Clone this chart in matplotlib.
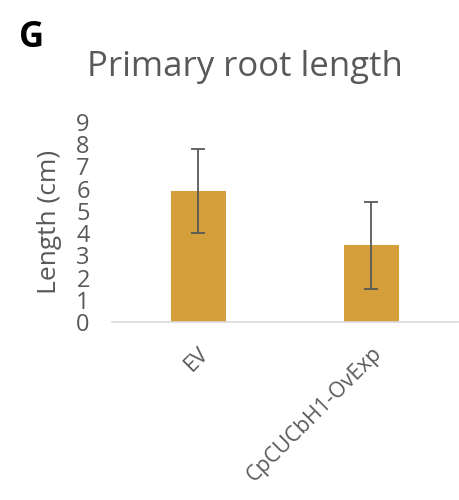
import matplotlib
matplotlib.use("Agg")
import matplotlib.pyplot as plt

groups = ["EV", "CpCUCbH1-OvExp"]
means = [5.9, 3.45]
errors = [1.9, 1.97]

plt.rcParams["font.family"] = ["Open Sans", "DejaVu Sans"]
grey = "#595959"

fig = plt.figure(figsize=(4.6, 5), dpi=100)
ax = fig.add_axes([112 / 460, 1 - 322 / 500, 346 / 460, 200 / 500])

x = range(len(groups))
ax.bar(x, means, width=0.32, color="#D49E3B", zorder=2)
ax.errorbar(x, means, yerr=errors, fmt="none", ecolor=grey, elinewidth=1.3,
            capsize=5, capthick=1.3, zorder=3)

ax.set_xlim(-0.5, 1.5)
ax.set_ylim(0, 9)
ax.set_yticks(range(10))
ax.tick_params(axis="y", length=0, labelsize=17, labelcolor=grey, pad=16)
ax.tick_params(axis="x", length=0, labelsize=15.5, labelcolor=grey, pad=15)
ax.set_xticks(list(x))
ax.set_xticklabels(groups, rotation=45, ha="right", rotation_mode="anchor")

for s in ["top", "right", "left"]:
    ax.spines[s].set_visible(False)
ax.spines["bottom"].set_color("#D9D9D9")
ax.spines["bottom"].set_linewidth(1.2)

ax.set_ylabel("Length (cm)", fontsize=19, color=grey)
ax.yaxis.set_label_coords(-(112 - 62) / 346, 0.5)
fig.text(245 / 460, 1 - 67 / 500, "Primary root length", fontsize=25,
         color=grey, ha="center", va="center")
fig.text(19 / 460, 1 - 38 / 500, "G", fontsize=25, fontweight="bold",
         color="black", ha="left", va="center")

fig.savefig("out.png", dpi=100)
